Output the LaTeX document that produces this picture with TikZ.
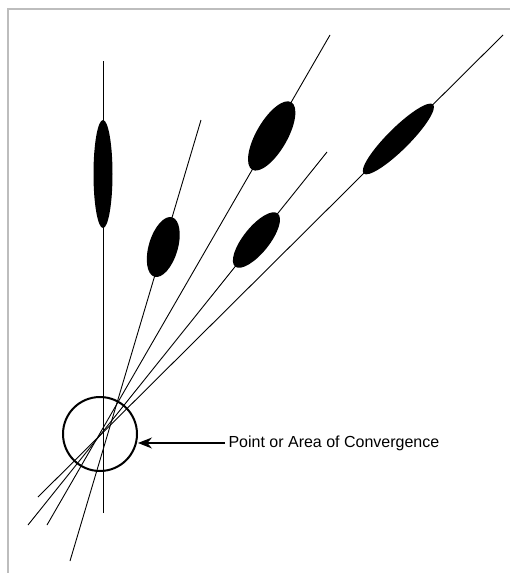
\documentclass[tikz,border=0pt]{standalone}
\usepackage{fontspec}
\setmainfont{Liberation Sans}
\usetikzlibrary{arrows.meta,positioning,calc,shapes.geometric}
\definecolor{Frame}{HTML}{BDBDBD}

\begin{document}
\begin{tikzpicture}[x=1pt,y=-1pt,
    stem/.style={line width=0.9pt},
    stain/.style={ellipse,fill=black,inner sep=0pt,sloped}]
  \useasboundingbox (0,0) rectangle (510,573);
  % frame
  \draw[Frame,line width=1.5pt] (510,9) -- (8,9) -- (8,573);
  % line ends
  \coordinate (b1) at (103,513); \coordinate (t1) at (103,61);
  \coordinate (b2) at (70,561);  \coordinate (t2) at (201,120);
  \coordinate (b3) at (47,525);  \coordinate (t3) at (330,35);
  \coordinate (b4) at (38,497);  \coordinate (t4) at (503,35);
  \coordinate (b5) at (28,525);  \coordinate (t5) at (327,152);
  % stains on their lines
  \draw[stem] (b1) -- node[stain,pos=0.75,minimum width=108,minimum height=19] (s1) {} (t1);
  \draw[stem] (b2) -- node[stain,pos=0.712,minimum width=62,minimum height=29] (s2) {} (t2);
  \draw[stem] (b3) -- node[stain,pos=0.794,minimum width=78,minimum height=31] (s3) {} (t3);
  \draw[stem] (b4) -- node[stain,pos=0.775,minimum width=98,minimum height=22] (s4) {} (t4);
  \draw[stem] (b5) -- node[stain,pos=0.764,minimum width=68,minimum height=26] (s5) {} (t5);
  % convergence
  \node[circle,draw,line width=2pt,minimum size=74,inner sep=0pt] (conv) at (100,434) {};
  \node[anchor=west,font=\fontsize{16}{18}\selectfont] (lbl) at (225,443) {Point or Area of Convergence};
  \draw[line width=1.1pt,-{Stealth[length=14pt,width=11pt]}] (lbl.west) -- (conv.east |- lbl.west);
\end{tikzpicture}
\end{document}
